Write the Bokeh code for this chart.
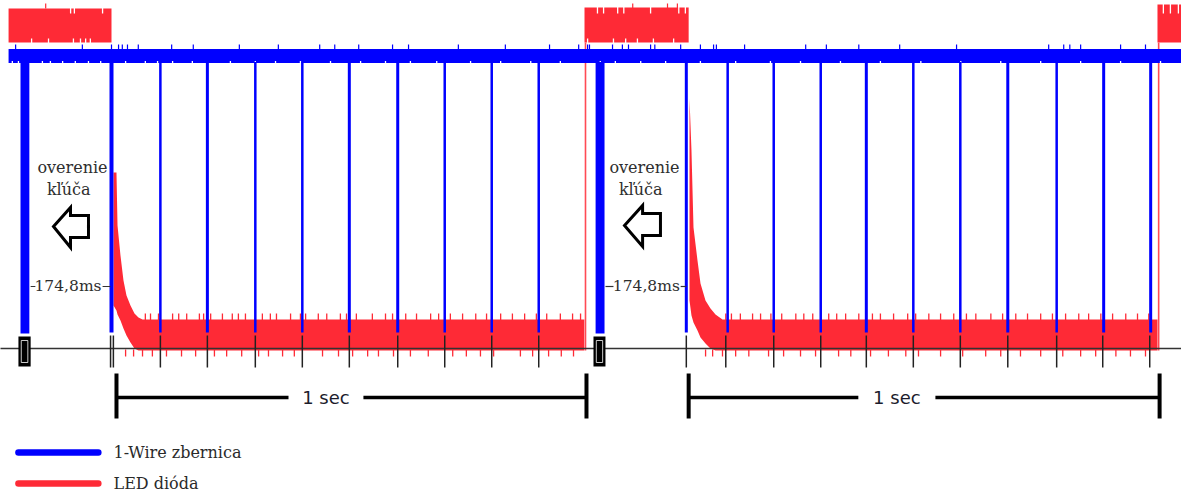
from bokeh.plotting import figure
from bokeh.models import Range1d
from bokeh.core.properties import value
from bokeh.embed import file_html
from bokeh.resources import INLINE

BLUE = "#0000ff"
RED = "#fe2a36"

# ---- time data (ms) ------------------------------------------------------
# 1-Wire bus pulses (two cycles)
pulse_t = [0, 104, 204, 306, 406, 506, 609, 709, 809, 909,
           1223, 1311, 1409, 1509, 1606, 1706, 1806, 1907, 2011, 2111, 2211]
pulse_w = [4, 2.5, 3, 2.5, 2.5, 3, 3, 2.5, 2.5, 2.5,
           3, 2.5, 2.5, 2.5, 3, 2.5, 2.5, 3, 2.5, 3, 3]
# time ticks on the base line
tick_t = [-2, 4, 104, 204, 306, 406, 506, 609, 709, 809, 909,
          1223, 1307, 1409, 1509, 1606, 1706, 1806, 1907, 2011, 2109, 2209]
# long bus-low ("overenie kľúča") periods
keycheck_start = [-193.6, 1030]
keycheck_end = [-174.8, 1049]
# marker blocks under the key check
marker_start = [-198, 1025.5]
marker_end = [-172, 1051]

# LED on (high) periods
led_on_start = [-219, 1006.4, 2225.5]
led_on_end = [0, 1228, 2290]
led_on_top = [8, 7, 4]
led_edge_t = [1008.5, 2228]

# LED decay after switch-off, cycle 1 and 2 (top / bottom envelope)
red1_t = [4.3, 10.6, 12.8, 19.1, 25.5, 31.9, 40.4, 48.9, 57.4, 66, 1006]
red1_top = [172, 172, 225, 255, 280, 295, 305, 313, 317, 319, 319]
red1_bot = [305, 310, 314, 320, 328, 335, 342, 348, 350, 350, 350]
red2_t = [1229.8, 1234, 1238.3, 1246.8, 1253.2, 1263.8, 1274.5, 1285.1, 1300, 2225.5]
red2_top = [98, 150, 227, 260, 283, 300, 308, 314, 319, 319]
red2_bot = [300, 315, 322, 330, 337, 343, 348, 350, 350, 350]

# noise spikes on the LED trace
red_up_t = [72, 83, 100, 130, 143, 160, 187, 196, 211, 236, 257, 270, 285, 321, 338, 351,
            381, 402, 413, 440, 458, 487, 500, 521, 555, 583, 598, 626, 649, 679, 696, 721,
            747, 775, 798, 828, 853, 879, 904, 926, 955, 981, 998,
            1307, 1319, 1338, 1364, 1381, 1403, 1426, 1456, 1473, 1492, 1526, 1543, 1562,
            1590, 1619, 1636, 1664, 1694, 1711, 1739, 1764, 1792, 1819, 1839, 1871, 1896,
            1924, 1949, 1977, 2002, 2030, 2058, 2079, 2105, 2130, 2158, 2183, 2207]
red_down_t = [30, 47, 66, 87, 117, 149, 179, 219, 245, 277, 313, 334, 364, 389, 449, 483,
              513, 545, 568, 600, 636, 674, 726, 755, 785, 813, 870, 896, 930, 957, 983,
              1264, 1279, 1300, 1328, 1356, 1398, 1430, 1466, 1498, 1547, 1573, 1615, 1653,
              1690, 1717, 1764, 1811, 1860, 1892, 1934, 1977, 2024, 2062, 2094, 2137, 2168, 2200]
led_block_up_t = [-140, 1109, 1183, 1204]
led_block_top_notch_t = [-87, -79, -19, 1034, 1047, 1077, 1090, 1147, 1207, 1221, 2238, 2253, 2270]
led_block_bot_notch_t = [-170, -134, -81, -66, -55, -45, 1013, 1068, 1094, 1119, 1153, 1196]

# noise on the idle-high bus line
bus_up_t = [-204, -62, 0, 15, 23, 34, 57, 128, 174, 272, 355, 443, 475, 526, 598, 632, 738,
            838, 932, 994, 1013, 1017, 1066, 1087, 1100, 1147, 1156, 1211, 1253, 1281, 1287,
            1347, 1477, 1521, 1590, 1677, 1798, 1994, 2026, 2039, 2062, 2147, 2200]
bus_notch_t = [-211, -198, -147, -130, -104, -77, -49, -23, 30, 72, 98, 130, 172, 253, 306,
               349, 402, 466, 530, 583, 636, 692, 764, 828, 892, 955, 1040, 1072, 1126, 1179,
               1253, 1328, 1402, 1466, 1551, 1636, 1722, 1807, 1892, 1977, 2062, 2147, 2232]

# annotations
note_t = [-83, 1134]
note_lines = ["overenie", "kľúča"]
delay_label = "174,8ms"
delay_center_t = [-92.5, 1138]
delay_dash_l = [(-172, -162), (1051, 1068)]
delay_dash_r = [(-19, -2), (1211, 1223)]
arrow1_t = [-123.4, -87.2, -87.2, -49, -49, -87.2, -87.2]
arrow1_y = [226, 207, 215, 215, 237, 237, 247]
arrow2_t = [1091.5, 1130, 1130, 1168, 1168, 1130, 1130]
arrow2_y = [225, 205, 213, 213, 235, 235, 246]
span_start = [10.6, 1228]
span_end = [1010.6, 2230]
span_gap = [(376.6, 536), (1589, 1753)]
span_label = "1 sec"
legend_labels = ["1-Wire zbernica", "LED dióda"]

# ---- vertical layout levels (screen rows) --------------------------------
BUS_TOP, BUS_BOT = 48.5, 62.5
PULSE_END = 332
LED_HI_BOT = 42
BASE = 348

p = figure(width=1181, height=494, x_range=Range1d(-236.17, 2276.6),
           y_range=Range1d(494, 0), output_backend="svg", toolbar_location=None,
           x_axis_type=None, y_axis_type=None, min_border=0)
p.grid.visible = False
p.outline_line_color = None
p.background_fill_color = "white"

# LED high blocks
p.quad(left=led_on_start, right=led_on_end, top=led_on_top, bottom=[LED_HI_BOT] * 3,
       fill_color=RED, line_color=None)
p.segment(x0=led_block_up_t, x1=led_block_up_t, y0=[8] * 4, y1=[3] * 4,
          line_color=RED, line_width=1.2)
n = len(led_block_top_notch_t)
p.segment(x0=led_block_top_notch_t, x1=led_block_top_notch_t, y0=[3] * n, y1=[13] * n,
          line_color="white", line_width=1.3)
n = len(led_block_bot_notch_t)
p.segment(x0=led_block_bot_notch_t, x1=led_block_bot_notch_t, y0=[38] * n, y1=[43] * n,
          line_color="white", line_width=1.3)
p.segment(x0=led_edge_t, x1=led_edge_t, y0=[LED_HI_BOT] * 2, y1=[BASE + 2] * 2,
          line_color="#ff4a54", line_width=1.6)

# LED decay + noise band
p.varea(x=red1_t, y1=red1_top, y2=red1_bot, fill_color=RED)
p.varea(x=red2_t, y1=red2_top, y2=red2_bot, fill_color=RED)
n = len(red_up_t)
p.segment(x0=red_up_t, x1=red_up_t, y0=[320] * n, y1=[313] * n, line_color=RED, line_width=1.3)
n = len(red_down_t)
p.segment(x0=red_down_t, x1=red_down_t, y0=[349] * n, y1=[356] * n, line_color=RED, line_width=1.3)

# base line and ticks
p.segment(x0=[-240], x1=[2290], y0=[BASE], y1=[BASE], line_color="#333333", line_width=1.5)
n = len(tick_t)
p.segment(x0=tick_t, x1=tick_t, y0=[335] * n, y1=[367] * n, line_color="#222222", line_width=1.5)

# bus idle band
p.quad(left=[-219], right=[2290], top=[BUS_TOP], bottom=[BUS_BOT], fill_color=BLUE, line_color=None)
n = len(bus_up_t)
p.segment(x0=bus_up_t, x1=bus_up_t, y0=[BUS_TOP] * n, y1=[44] * n, line_color=BLUE, line_width=1.2)
n = len(bus_notch_t)
p.segment(x0=bus_notch_t, x1=bus_notch_t, y0=[60.5] * n, y1=[63.5] * n, line_color="white", line_width=1.3)

# bus pulses
n = len(pulse_t)
p.segment(x0=pulse_t, x1=pulse_t, y0=[BUS_BOT - 1] * n, y1=[PULSE_END] * n,
          line_color=BLUE, line_width=pulse_w)
p.quad(left=keycheck_start, right=keycheck_end, top=[BUS_BOT - 1] * 2, bottom=[333] * 2,
       fill_color=BLUE, line_color=None)

# marker blocks
p.quad(left=marker_start, right=marker_end, top=[336] * 2, bottom=[366] * 2,
       fill_color="black", line_color=None)
p.quad(left=[m + 6 for m in marker_start], right=[m - 6 for m in marker_end],
       top=[340] * 2, bottom=[362] * 2, fill_color=None, line_color="white", line_width=0.8)

# annotations
for t in note_t:
    p.text(x=[t, t - 8], y=[167, 189], text=note_lines, text_font=value("DejaVu Serif"),
           text_font_size=value("16px"), text_align="center", text_baseline="middle",
           text_color="#2e2e2e")
p.text(x=delay_center_t, y=[285, 285], text=[delay_label] * 2, text_font=value("DejaVu Serif"),
       text_font_size=value("15.5px"), text_align="center", text_baseline="middle",
       text_color="#2e2e2e")
p.segment(x0=[a for a, b in delay_dash_l + delay_dash_r], x1=[b for a, b in delay_dash_l + delay_dash_r],
          y0=[286] * 4, y1=[286] * 4, line_color="#333333", line_width=1.2)
p.patch(arrow1_t, arrow1_y, fill_color="white", line_color="black", line_width=3, line_join="miter")
p.patch(arrow2_t, arrow2_y, fill_color="white", line_color="black", line_width=3, line_join="miter")

# 1 sec spans
p.segment(x0=span_start + span_end, x1=span_start + span_end, y0=[373] * 4, y1=[418] * 4,
          line_color="black", line_width=4)
p.segment(x0=[span_start[0], span_gap[0][1], span_start[1], span_gap[1][1]],
          x1=[span_gap[0][0], span_end[0], span_gap[1][0], span_end[1]],
          y0=[397] * 4, y1=[397] * 4, line_color="black", line_width=3.5)
p.text(x=[(g[0] + g[1]) / 2 for g in span_gap], y=[397, 397], text=[span_label] * 2,
       text_font=value("DejaVu Sans"), text_font_size=value("18px"), text_align="center",
       text_baseline="middle", text_color="#1c1c2c")

# legend
p.segment(x0=[-198, -198], x1=[-28, -28], y0=[452, 483], y1=[452, 483],
          line_color=[BLUE, RED], line_width=6.5, line_cap="round")
p.text(x=[4.3, 4.3], y=[452, 483], text=legend_labels, text_font=value("DejaVu Serif"),
       text_font_size=value("16px"), text_align="left", text_baseline="middle",
       text_color="#2a2a2a")

open("out.html", "w").write(file_html(p, INLINE))
